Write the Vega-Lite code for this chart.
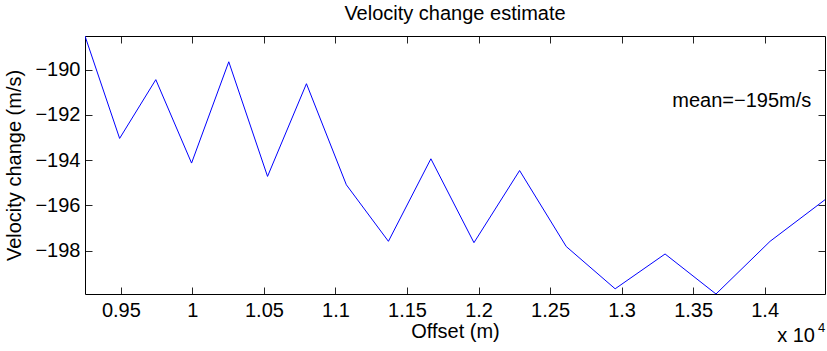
{
  "$schema": "https://vega.github.io/schema/vega-lite/v6.json",
  "autosize": "none",
  "padding": {"left": 85, "top": 36, "right": 2, "bottom": 57},
  "width": 740,
  "height": 258,
  "background": "white",
  "config": {
    "font": "Liberation Sans",
    "view": {"stroke": null},
    "axis": {
      "grid": false,
      "domainColor": "#000000",
      "domainWidth": 1,
      "tickColor": "#262626",
      "tickSize": -7,
      "tickWidth": 1,
      "labelFont": "Liberation Sans",
      "labelFontSize": 20,
      "labelColor": "#000000",
      "titleFont": "Liberation Sans",
      "titleFontSize": 20,
      "titleFontWeight": "normal",
      "titleColor": "#000000"
    }
  },
  "title": {
    "text": "Velocity change estimate",
    "font": "Liberation Sans",
    "fontSize": 20,
    "fontWeight": "normal",
    "color": "#000000",
    "baseline": "alphabetic",
    "offset": -4
  },
  "data": {
    "values": [
      {"offset": 9249, "dv": -188.51},
      {"offset": 9491, "dv": -193.04},
      {"offset": 9744, "dv": -190.44},
      {"offset": 9994, "dv": -194.13},
      {"offset": 10254, "dv": -189.65},
      {"offset": 10525, "dv": -194.72},
      {"offset": 10797, "dv": -190.62},
      {"offset": 11076, "dv": -195.09},
      {"offset": 11370, "dv": -197.59},
      {"offset": 11667, "dv": -193.94},
      {"offset": 11968, "dv": -197.65},
      {"offset": 12287, "dv": -194.46},
      {"offset": 12613, "dv": -197.82},
      {"offset": 12955, "dv": -199.69},
      {"offset": 13304, "dv": -198.15},
      {"offset": 13660, "dv": -199.92},
      {"offset": 14038, "dv": -197.59},
      {"offset": 14422, "dv": -195.75}
    ]
  },
  "resolve": {"axis": {"x": "independent", "y": "independent"}},
  "layer": [
    {
      "mark": {"type": "line", "color": "#0000FF", "strokeWidth": 1, "clip": true},
      "encoding": {
        "x": {
          "field": "offset",
          "type": "quantitative",
          "scale": {"domain": [9249, 14422], "nice": false, "zero": false},
          "axis": {
            "orient": "bottom",
            "values": [9500, 10000, 10500, 11000, 11500, 12000, 12500, 13000, 13500, 14000],
            "labelExpr": "format(datum.value/10000, '.3~f')",
            "labelPadding": 13,
            "title": "Offset (m)",
            "titlePadding": 1
          }
        },
        "y": {
          "field": "dv",
          "type": "quantitative",
          "scale": {"domain": [-199.92, -188.51], "nice": false, "zero": false},
          "axis": {
            "orient": "left",
            "values": [-198, -196, -194, -192, -190],
            "labelPadding": 12,
            "title": "Velocity change (m/s)",
            "titlePadding": 10
          }
        }
      }
    },
    {
      "mark": {"type": "line", "opacity": 0},
      "encoding": {
        "x": {
          "field": "offset",
          "type": "quantitative",
          "scale": {"domain": [9249, 14422], "nice": false, "zero": false},
          "axis": {
            "orient": "top",
            "values": [9500, 10000, 10500, 11000, 11500, 12000, 12500, 13000, 13500, 14000],
            "labels": false,
            "title": null
          }
        },
        "y": {
          "field": "dv",
          "type": "quantitative",
          "scale": {"domain": [-199.92, -188.51], "nice": false, "zero": false},
          "axis": {
            "orient": "right",
            "values": [-198, -196, -194, -192, -190],
            "labels": false,
            "title": null
          }
        }
      }
    },
    {
      "data": {"values": [{"label": "mean=\u2212195m/s", "offset": 14326, "dv": -191.39}]},
      "mark": {"type": "text", "align": "right", "baseline": "middle", "fontSize": 20, "font": "Liberation Sans", "color": "#000000"},
      "encoding": {
        "x": {"field": "offset", "type": "quantitative", "axis": null},
        "y": {"field": "dv", "type": "quantitative", "axis": null},
        "text": {"field": "label"}
      }
    },
    {
      "data": {"values": [{"label": "x 10", "offset": 14422, "dv": -199.92}]},
      "mark": {"type": "text", "align": "right", "baseline": "alphabetic", "fontSize": 20, "font": "Liberation Sans", "color": "#000000", "dy": 48, "dx": -10},
      "encoding": {
        "x": {"field": "offset", "type": "quantitative", "axis": null},
        "y": {"field": "dv", "type": "quantitative", "axis": null},
        "text": {"field": "label"}
      }
    },
    {
      "data": {"values": [{"label": "4", "offset": 14422, "dv": -199.92}]},
      "mark": {"type": "text", "align": "left", "baseline": "alphabetic", "fontSize": 13, "font": "Liberation Sans", "color": "#000000", "dy": 38, "dx": -7},
      "encoding": {
        "x": {"field": "offset", "type": "quantitative", "axis": null},
        "y": {"field": "dv", "type": "quantitative", "axis": null},
        "text": {"field": "label"}
      }
    }
  ]
}
